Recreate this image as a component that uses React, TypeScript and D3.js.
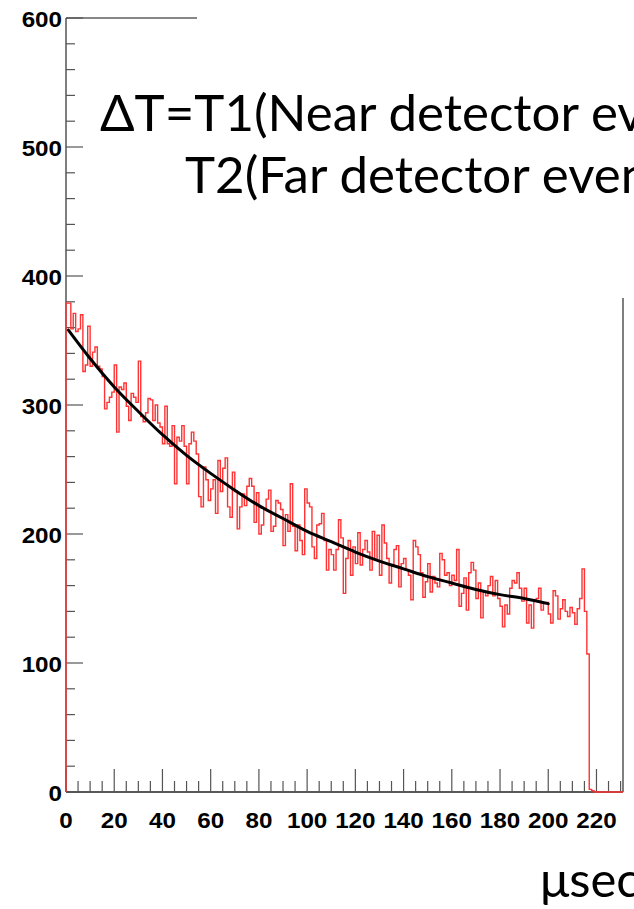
import React from "react";
import * as d3 from "d3";

// Counts per 1 µs bin, starting at 0 µs
const binCounts: number[] = [
  379, 379, 359, 371, 357, 359, 370, 326, 331, 361,
  330, 341, 345, 330, 328, 322, 297, 302, 306, 310,
  331, 279, 314, 312, 317, 299, 288, 309, 306, 302,
  334, 291, 287, 294, 305, 304, 288, 300, 286, 283,
  270, 299, 270, 268, 284, 239, 275, 272, 284, 268,
  239, 270, 279, 272, 262, 229, 221, 252, 242, 226,
  235, 242, 216, 257, 233, 251, 259, 221, 213, 248,
  233, 204, 221, 231, 222, 237, 243, 237, 209, 232,
  200, 207, 219, 227, 234, 202, 206, 226, 224, 219,
  191, 215, 202, 239, 206, 187, 207, 195, 184, 235,
  224, 221, 190, 181, 207, 208, 216, 195, 172, 188,
  184, 172, 188, 211, 197, 154, 181, 195, 168, 190,
  177, 201, 176, 188, 195, 186, 172, 202, 180, 199,
  168, 207, 193, 181, 162, 175, 188, 191, 159, 177,
  181, 172, 168, 149, 195, 190, 184, 170, 151, 163,
  177, 155, 167, 162, 159, 185, 180, 168, 170, 160,
  168, 164, 188, 144, 154, 166, 141, 170, 178, 172,
  150, 162, 135, 155, 152, 160, 167, 152, 164, 150,
  144, 128, 145, 138, 158, 164, 162, 170, 158, 148,
  158, 131, 145, 127, 148, 150, 158, 141, 146, 147,
  138, 131, 156, 152, 134, 142, 149, 140, 136, 143,
  139, 130, 142, 150, 173, 140, 107, 2, 1,
];

// Fitted exponential, sampled along the fit range
const fitTimes: number[] = [1, 10, 20, 30, 40, 50, 60, 70, 80, 90, 100, 110, 120, 130, 140, 150, 160, 170, 180, 190, 200];
const fitValues: number[] = [358, 336, 314, 295, 277, 261, 247, 234, 222, 212, 202, 194, 186, 179, 173, 167, 162, 157, 153, 150, 146];

const xMajorTicks: number[] = [0, 20, 40, 60, 80, 100, 120, 140, 160, 180, 200, 220];
const yMajorTicks: number[] = [0, 100, 200, 300, 400, 500, 600];

const titleLine1 = "ΔT=T1(Near detector events) -";
const titleLine2 = "T2(Far detector events)";
const xTitle = "μsec";

const W = 634;
const H = 909;
const X_MAX = 231;
const Y_MAX = 600;

export default function App() {
  const x = d3.scaleLinear().domain([0, X_MAX]).range([66, 623]);
  const y = d3.scaleLinear().domain([0, Y_MAX]).range([792, 18]);

  // Step outline of the histogram
  const pts: [number, number][] = [[x(0), y(0)]];
  binCounts.forEach((v, i) => {
    pts.push([x(i), y(v)]);
    pts.push([x(i + 1), y(v)]);
  });
  pts.push([x(binCounts.length), y(0)]);
  pts.push([x(X_MAX), y(0)]);
  const histPath = d3.line()(pts) ?? "";

  const fitPath =
    d3
      .line<number>()
      .x((_, i) => x(fitTimes[i]))
      .y((v) => y(v))
      .curve(d3.curveMonotoneX)(fitValues) ?? "";

  const xMinor = d3.range(0, X_MAX + 0.1, 5).filter((t) => t % 20 !== 0);
  const yMinor = d3.range(0, Y_MAX + 0.1, 20).filter((v) => v % 100 !== 0);

  const tickColor = "#555";
  const labelFont = "'Liberation Sans', Arial, sans-serif";
  const titleFont = "Lato, 'Open Sans', sans-serif";

  return (
    <svg
      width={W}
      height={H}
      viewBox={`0 0 ${W} ${H}`}
      style={{ position: "absolute", left: 0, top: 0, background: "#fff" }}
    >
      <rect x={0} y={0} width={W} height={H} fill="#fff" />

      {/* frame */}
      <line x1={x(0)} x2={x(0)} y1={y(Y_MAX)} y2={y(0)} stroke={tickColor} strokeWidth={1.5} />
      <line x1={x(0)} x2={x(X_MAX)} y1={y(0)} y2={y(0)} stroke="#222" strokeWidth={1.5} />
      <line x1={x(0)} x2={197} y1={y(Y_MAX)} y2={y(Y_MAX)} stroke="#111" strokeWidth={1} />
      <line x1={x(X_MAX)} x2={x(X_MAX)} y1={298} y2={y(0)} stroke={tickColor} strokeWidth={1.5} />

      {/* y ticks */}
      {yMajorTicks.map((v) => (
        <line key={`ym${v}`} x1={x(0)} x2={x(0) + 17} y1={y(v)} y2={y(v)} stroke={tickColor} strokeWidth={1.2} />
      ))}
      {yMinor.map((v) => (
        <line key={`yn${v}`} x1={x(0)} x2={x(0) + 9} y1={y(v)} y2={y(v)} stroke={tickColor} strokeWidth={1.2} />
      ))}

      {/* x ticks */}
      {xMajorTicks.map((t) => (
        <line key={`xm${t}`} x1={x(t)} x2={x(t)} y1={y(0)} y2={y(0) - 23} stroke={tickColor} strokeWidth={1.2} />
      ))}
      {xMinor.map((t) => (
        <line key={`xn${t}`} x1={x(t)} x2={x(t)} y1={y(0)} y2={y(0) - 11} stroke={tickColor} strokeWidth={1.2} />
      ))}

      {/* tick labels */}
      {yMajorTicks.map((v) => (
        <text
          key={`yl${v}`}
          transform={`translate(${x(0) - 4},${y(v) + 8.5}) scale(1.1,1)`}
          textAnchor="end"
          fontFamily={labelFont}
          fontWeight="bold"
          fontSize={22}
          fill="#000"
        >
          {v}
        </text>
      ))}
      {xMajorTicks.map((t) => (
        <text
          key={`xl${t}`}
          transform={`translate(${x(t)},${828}) scale(1.1,1)`}
          textAnchor="middle"
          fontFamily={labelFont}
          fontWeight="bold"
          fontSize={22}
          fill="#000"
        >
          {t}
        </text>
      ))}

      {/* histogram */}
      <path d={histPath} fill="none" stroke="#ff3333" strokeWidth={1.4} strokeLinejoin="miter" />

      {/* fit */}
      <path d={fitPath} fill="none" stroke="#000" strokeWidth={3} strokeLinecap="round" />

      {/* title pave */}
      <rect x={197} y={0} width={W - 197} height={297} fill="#fff" />
      <text x={100} y={131} fontFamily={titleFont} fontSize={51} fill="#000">
        {titleLine1}
      </text>
      <text x={185} y={193} fontFamily={titleFont} fontSize={51} fill="#000">
        {titleLine2}
      </text>

      {/* axis title */}
      <text x={540} y={897} fontFamily={titleFont} fontSize={49} fill="#000">
        {xTitle}
      </text>
    </svg>
  );
}
